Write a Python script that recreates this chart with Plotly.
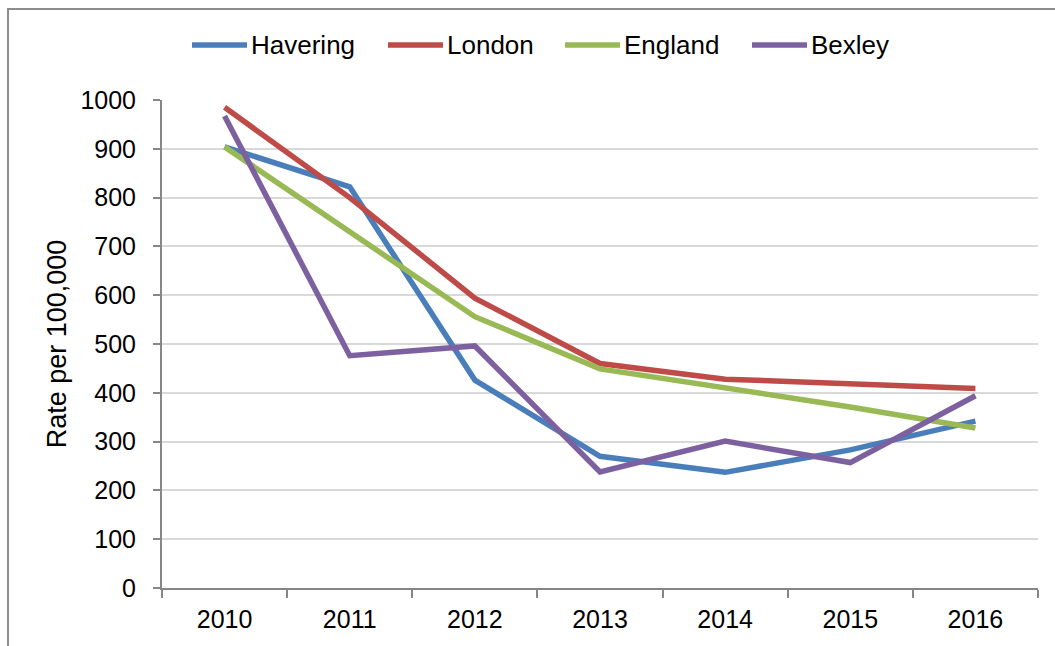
import plotly.graph_objects as go

years = ["2010", "2011", "2012", "2013", "2014", "2015", "2016"]
havering = [904, 822, 426, 270, 237, 283, 342]
london = [985, 800, 594, 460, 428, 418, 409]
england = [904, 730, 556, 449, 411, 371, 328]
bexley = [967, 476, 496, 238, 301, 257, 394]

series = [
    ("Havering", havering, "#4a7ebb"),
    ("London", london, "#be4b48"),
    ("England", england, "#98b954"),
    ("Bexley", bexley, "#7d60a0"),
]

W, H = 1055, 646
ML, MR, MT, MB = 162, 17, 100, 58
PW, PH = W - ML - MR, H - MT - MB
FONT = "Liberation Sans, Arial, sans-serif"


def px_x(x):
    return (x - ML) / PW


def px_y(y):
    return (H - MB - y) / PH


fig = go.Figure()
for name, vals, col in series:
    fig.add_trace(go.Scatter(
        x=years, y=vals, name=name, mode="lines",
        line=dict(color=col, width=5.5),
        showlegend=False,
    ))

# hand-made legend so the line samples match the original length
leg_line_x = [192, 388, 565, 752]
leg_y = 45
for (name, vals, col), lx in zip(series, leg_line_x):
    fig.add_shape(type="line", xref="paper", yref="paper",
                  x0=px_x(lx), x1=px_x(lx + 55), y0=px_y(leg_y), y1=px_y(leg_y),
                  line=dict(color=col, width=5.5))
    fig.add_annotation(xref="paper", yref="paper", x=px_x(lx + 57), y=px_y(leg_y),
                       text=name, showarrow=False, xanchor="left", yanchor="middle",
                       font=dict(family=FONT, size=26, color="black"))

# outer chart border
fig.add_shape(type="rect", xref="paper", yref="paper",
              x0=px_x(8), x1=px_x(W + 10), y0=px_y(H + 10), y1=px_y(9),
              line=dict(color="#8c8c8c", width=2), layer="below")

fig.update_layout(
    width=W, height=H,
    margin=dict(l=ML, r=MR, t=MT, b=MB),
    plot_bgcolor="white", paper_bgcolor="white",
    font=dict(family=FONT, size=25, color="black"),
    xaxis=dict(
        type="category", range=[-0.5, 6.5], tickson="boundaries",
        showgrid=False, showline=True, linecolor="#868686", linewidth=2,
        ticks="outside", ticklen=8, tickcolor="#868686", tickwidth=2,
        tickfont=dict(size=25), ticklabelstandoff=8,
    ),
    yaxis=dict(
        range=[0, 1000], dtick=100, showgrid=True, gridcolor="#d9d9d9", gridwidth=2,
        zeroline=False, showline=True, linecolor="#868686", linewidth=2,
        ticks="outside", ticklen=7, tickcolor="#868686", tickwidth=2,
        tickfont=dict(size=25), ticklabelstandoff=12,
        title=dict(text="Rate per 100,000", font=dict(size=27), standoff=6),
    ),
)

fig.write_html("out.html", config={"displayModeBar": False},
               post_script="document.body.style.margin='0';")
